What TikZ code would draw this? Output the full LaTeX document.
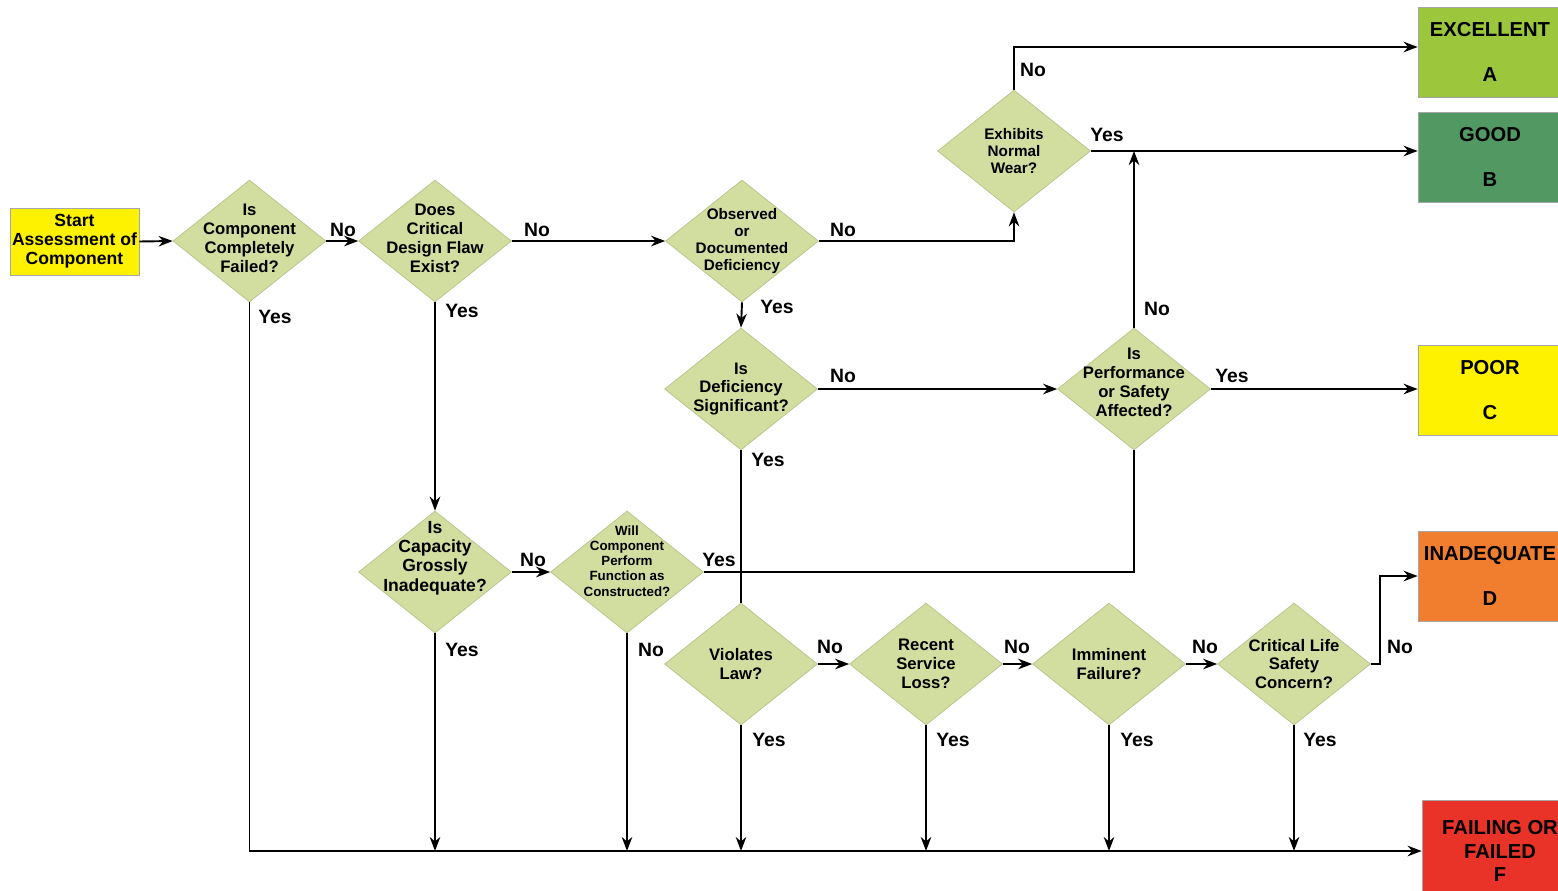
\documentclass[tikz,border=0pt]{standalone}
\usepackage{fontspec}
\setmainfont{Liberation Sans}
\usetikzlibrary{shapes.geometric,arrows.meta}
\definecolor{dfill}{RGB}{210,221,160}
\definecolor{dborder}{RGB}{184,194,140}
\definecolor{cyel}{RGB}{255,242,0}
\definecolor{cexc}{RGB}{156,198,59}
\definecolor{cgood}{RGB}{82,152,98}
\definecolor{cinad}{RGB}{240,126,46}
\definecolor{cfail}{RGB}{233,50,40}
\begin{document}
\begin{tikzpicture}[x=0.02cm,y=-0.02cm,
  dia/.style={diamond, draw=dborder, fill=dfill, inner sep=0pt, minimum width=3.06cm, minimum height=2.44cm},
  dt/.style={font=\bfseries\fontsize{9.5}{10.8}\selectfont, align=center, inner sep=0pt},
  dts/.style={font=\bfseries\fontsize{8.7}{9.8}\selectfont, align=center, inner sep=0pt},
  dtt/.style={font=\bfseries\fontsize{7.6}{8.6}\selectfont, align=center, inner sep=0pt},
  lab/.style={font=\bfseries\fontsize{11}{13}\selectfont, inner sep=0pt},
  arr/.style={-{Stealth[length=8pt,width=6pt]}, line width=1.1pt},
  ln/.style={line width=1.1pt},
  outbox/.style={draw=black!35, minimum width=2.88cm, minimum height=1.8cm, align=center, font=\bfseries\fontsize{11.5}{25.5}\selectfont, inner sep=0pt}
]
\useasboundingbox[fill=white] (0,0) rectangle (1558,890);

% start
\node[draw=black!35, fill=cyel, minimum width=2.58cm, minimum height=1.34cm, align=center, inner sep=0pt,
  font=\bfseries\fontsize{10}{10.8}\selectfont] (start) at (74.5,241.5) {Start\\Assessment of\\Component};

% diamonds
\node[dia, label={[dt,yshift=0.06cm]center:Is\\Component\\Completely\\Failed?}] (d1) at (249.5,241) {};
\node[dia, label={[dt,yshift=0.06cm]center:Does\\Critical\\Design Flaw\\Exist?}] (d2) at (435,241) {};
\node[dia, label={[dts]center:Observed\\or\\Documented\\Deficiency}] (obs) at (742,241) {};
\node[dia, label={[dts]center:Exhibits\\Normal\\Wear?}] (wear) at (1014,151) {};
\node[dia, label={[dt]center:Is\\Deficiency\\Significant?}] (def) at (741,389) {};
\node[dia, label={[dt,yshift=0.14cm]center:Is\\Performance\\or Safety\\Affected?}] (perf) at (1134,389) {};
\node[dia, label={[font=\bfseries\fontsize{10}{11}\selectfont, align=center, inner sep=0pt, yshift=0.28cm]center:Is\\Capacity\\Grossly\\Inadequate?}] (cap) at (435,572) {};
\node[dia, label={[dtt,yshift=0.22cm]center:Will\\Component\\Perform\\Function as\\Constructed?}] (will) at (627,572) {};
\node[dia, label={[dt]center:Violates\\Law?}] (viol) at (741,664) {};
\node[dia, label={[dt]center:Recent\\Service\\Loss?}] (rec) at (926,664) {};
\node[dia, label={[dt]center:Imminent\\Failure?}] (imm) at (1109,664) {};
\node[dia, label={[dt]center:Critical Life\\Safety\\Concern?}] (crit) at (1294,664) {};

% outcomes
\node[outbox, fill=cexc] (exc) at (1490,52) {EXCELLENT\\A};
\node[outbox, fill=cgood] (good) at (1490,157) {GOOD\\B};
\node[outbox, fill=cyel] (poor) at (1490,390) {POOR\\C};
\node[outbox, fill=cinad] (inad) at (1490,576) {INADEQUATE\\D};
\node[outbox, fill=cfail, minimum width=3.12cm, minimum height=2.04cm, font=\bfseries\fontsize{11.5}{13.6}\selectfont] (fbox) at (1500,851) {FAILING OR\\FAILED\\F};

% connectors
\draw[arr] (start.east) -- (d1.west);
\draw[arr] (d1.east) -- (d2.west);
\draw[arr] (d2.east) -- (obs.west);
\draw[arr] (obs.east) -| (wear.south);
\draw[arr] (wear.north) |- ([yshift=0.1cm]exc.west);
\draw[arr] (wear.east) -- (wear.east -| good.west);
\draw[arr] (obs.south) -- (def.north);
\draw[arr] (def.east) -- (perf.west);
\draw[arr] (perf.north) -- (perf.north |- wear.east);
\draw[arr] (perf.east) -- (perf.east -| poor.west);
\draw[arr] (d2.south) -- (cap.north);
\draw[arr] (cap.east) -- (will.west);
\draw[ln] (will.east) -| (perf.south);
\draw[ln] (def.south) -- (viol.north);
\draw[arr] (viol.east) -- (rec.west);
\draw[arr] (rec.east) -- (imm.west);
\draw[arr] (imm.east) -- (crit.west);
\coordinate (cn) at (1380,664);
\draw[arr] (crit.east) -- (cn) |- (inad.west);
\draw[arr] (d1.south) |- (fbox.west);
\foreach \n in {cap,will,viol,rec,imm,crit}
  \draw[arr] (\n.south) -- (\n.south |- fbox.west);

% labels
\node[lab] (l1) at (343,230) {No};
\node[lab] (l2) at (275,317) {Yes};
\node[lab] (l3) at (537,230) {No};
\node[lab] (l4) at (462,311) {Yes};
\node[lab] (l5) at (843,230) {No};
\node[lab] (l6) at (777,307) {Yes};
\node[lab] (l7) at (1033,70) {No};
\node[lab] (l8) at (1107,135) {Yes};
\node[lab] (l9) at (843,376) {No};
\node[lab] (l10) at (768,460) {Yes};
\node[lab] (l11) at (1157,309) {No};
\node[lab] (l12) at (1232,376) {Yes};
\node[lab] (l13) at (533,560) {No};
\node[lab] (l14) at (462,650) {Yes};
\node[lab] (l15) at (719,560) {Yes};
\node[lab] (l16) at (651,650) {No};
\node[lab] (l17) at (830,647) {No};
\node[lab] (l18) at (769,740) {Yes};
\node[lab] (l19) at (1017,647) {No};
\node[lab] (l20) at (953,740) {Yes};
\node[lab] (l21) at (1205,647) {No};
\node[lab] (l22) at (1137,740) {Yes};
\node[lab] (l23) at (1400,647) {No};
\node[lab] (l24) at (1320,740) {Yes};
\end{tikzpicture}
\end{document}
